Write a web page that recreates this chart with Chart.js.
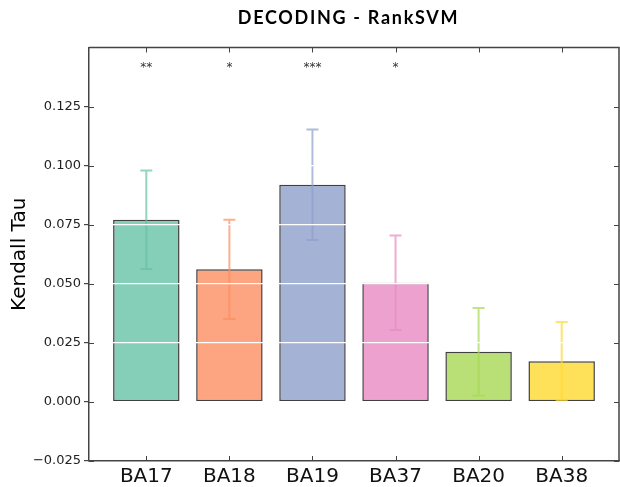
<!DOCTYPE html>
<html>
<head>
<meta charset="utf-8">
<script src="https://cdn.jsdelivr.net/npm/chart.js@4/dist/chart.umd.min.js"></script>
<style>
  html, body { margin: 0; padding: 0; background: #fff; }
  #wrap { width: 620px; height: 487px; position: relative; }
</style>
</head>
<body>
<div id="wrap"><canvas id="c" width="620" height="487"></canvas></div>
<script>
const categories = ['BA17', 'BA18', 'BA19', 'BA37', 'BA20', 'BA38'];
const means = [0.0771, 0.0561, 0.0919, 0.0504, 0.0212, 0.0172];
const errors = [0.0208, 0.0210, 0.0234, 0.0200, 0.0186, 0.0166];
const stars = ['**', '*', '***', '*', '', ''];
const yTicks = [-0.025, 0, 0.025, 0.05, 0.075, 0.1, 0.125];
const barColors = ['#66c2a5', '#fc8d62', '#8da0cb', '#e78ac3', '#a6d854', '#ffd92f'];
const titleText = 'DECODING - RankSVM';
const yTitle = 'Kendall Tau';
const starLevel = 0.1412;

function rgba(hex, a) {
  const n = parseInt(hex.slice(1), 16);
  return `rgba(${(n >> 16) & 255},${(n >> 8) & 255},${n & 255},${a})`;
}

Chart.defaults.font.family = "'DejaVu Sans', sans-serif";

const frameColor = '#444';

const decorPlugin = {
  id: 'decor',
  afterDatasetsDraw(chart) {
    const ctx = chart.ctx;
    const xs = chart.scales.x, ys = chart.scales.y;
    ctx.save();
    ctx.lineWidth = 2;
    means.forEach((m, i) => {
      const x = xs.getPixelForValue(i);
      const yTop = ys.getPixelForValue(m + errors[i]);
      const yBot = ys.getPixelForValue(m - errors[i]);
      ctx.strokeStyle = rgba(barColors[i], 0.7);
      ctx.beginPath();
      ctx.moveTo(x, yTop); ctx.lineTo(x, yBot);
      ctx.moveTo(x - 6, yTop); ctx.lineTo(x + 6, yTop);
      ctx.moveTo(x - 6, yBot); ctx.lineTo(x + 6, yBot);
      ctx.stroke();
    });
    ctx.restore();
  },
  afterDraw(chart) {
    const ctx = chart.ctx;
    const a = chart.chartArea;
    const xs = chart.scales.x, ys = chart.scales.y;
    ctx.save();
    ctx.strokeStyle = frameColor;
    ctx.lineWidth = 1.5;
    ctx.beginPath();
    ctx.moveTo(a.left, a.top); ctx.lineTo(a.right, a.top); ctx.lineTo(a.right, a.bottom);
    ctx.stroke();
    ctx.lineWidth = 1;
    ctx.beginPath();
    yTicks.forEach(v => {
      const y = Math.round(ys.getPixelForValue(v)) + 0.5;
      ctx.moveTo(a.left, y); ctx.lineTo(a.left + 5, y);
      ctx.moveTo(a.right, y); ctx.lineTo(a.right - 5, y);
    });
    categories.forEach((c, i) => {
      const x = Math.round(xs.getPixelForValue(i)) + 0.5;
      ctx.moveTo(x, a.bottom); ctx.lineTo(x, a.bottom - 5);
      ctx.moveTo(x, a.top); ctx.lineTo(x, a.top + 5);
    });
    ctx.stroke();
    ctx.fillStyle = '#333';
    ctx.font = "12px 'DejaVu Sans'";
    ctx.textAlign = 'center';
    ctx.textBaseline = 'middle';
    stars.forEach((s, i) => {
      if (!s) return;
      ctx.fillText(s, xs.getPixelForValue(i), ys.getPixelForValue(starLevel));
    });
    ctx.fillStyle = '#000';
    ctx.font = "bold 18px Lato";
    ctx.letterSpacing = '1.7px';
    ctx.textBaseline = 'middle';
    ctx.fillText(titleText, 348.5, 18);
    ctx.restore();
  }
};

new Chart(document.getElementById('c'), {
  type: 'bar',
  data: {
    datasets: [{
      data: categories.map((c, i) => ({ x: i, y: means[i] })),
      backgroundColor: barColors.map(c => rgba(c, 0.8)),
      borderColor: 'rgba(0,0,0,0.75)',
      borderWidth: 1.5,
      borderSkipped: false,
      categoryPercentage: 1.0,
      barPercentage: 0.8
    }]
  },
  options: {
    responsive: false,
    animation: false,
    devicePixelRatio: 1,
    layout: { padding: { top: 47.5, right: 1, left: 0, bottom: 0 } },
    plugins: { legend: { display: false }, tooltip: { enabled: false }, title: { display: false } },
    scales: {
      x: {
        type: 'linear',
        offset: false,
        min: -0.69,
        max: 5.69,
        afterBuildTicks: s => { s.ticks = categories.map((c, i) => ({ value: i })); },
        afterFit: s => { s.height = 26; },
        ticks: {
          callback: v => categories[v],
          font: { size: 20 },
          color: '#111',
          padding: 3.5,
          maxRotation: 0,
          autoSkip: false
        },
        grid: { display: true, drawOnChartArea: false, drawTicks: false, offset: false },
        border: { color: frameColor, width: 1.5, z: 2 }
      },
      y: {
        min: -0.025,
        max: 0.15,
        afterBuildTicks: s => { s.ticks = yTicks.map(v => ({ value: v })); },
        afterFit: s => { s.width = 89; },
        ticks: {
          callback: v => (v < 0 ? '\u2212' : '') + Math.abs(v).toFixed(3),
          font: { size: 13 },
          color: '#222',
          padding: 3
        },
        grid: { color: '#ffffff', lineWidth: 1.2, tickColor: frameColor, tickLength: 5, z: 1 },
        border: { color: frameColor, width: 1.5, z: 2 },
        title: {
          display: true,
          text: yTitle,
          font: { size: 20 },
          color: '#000',
          padding: { top: 8, bottom: 0 }
        }
      }
    }
  },
  plugins: [decorPlugin]
});
</script>
</body>
</html>
